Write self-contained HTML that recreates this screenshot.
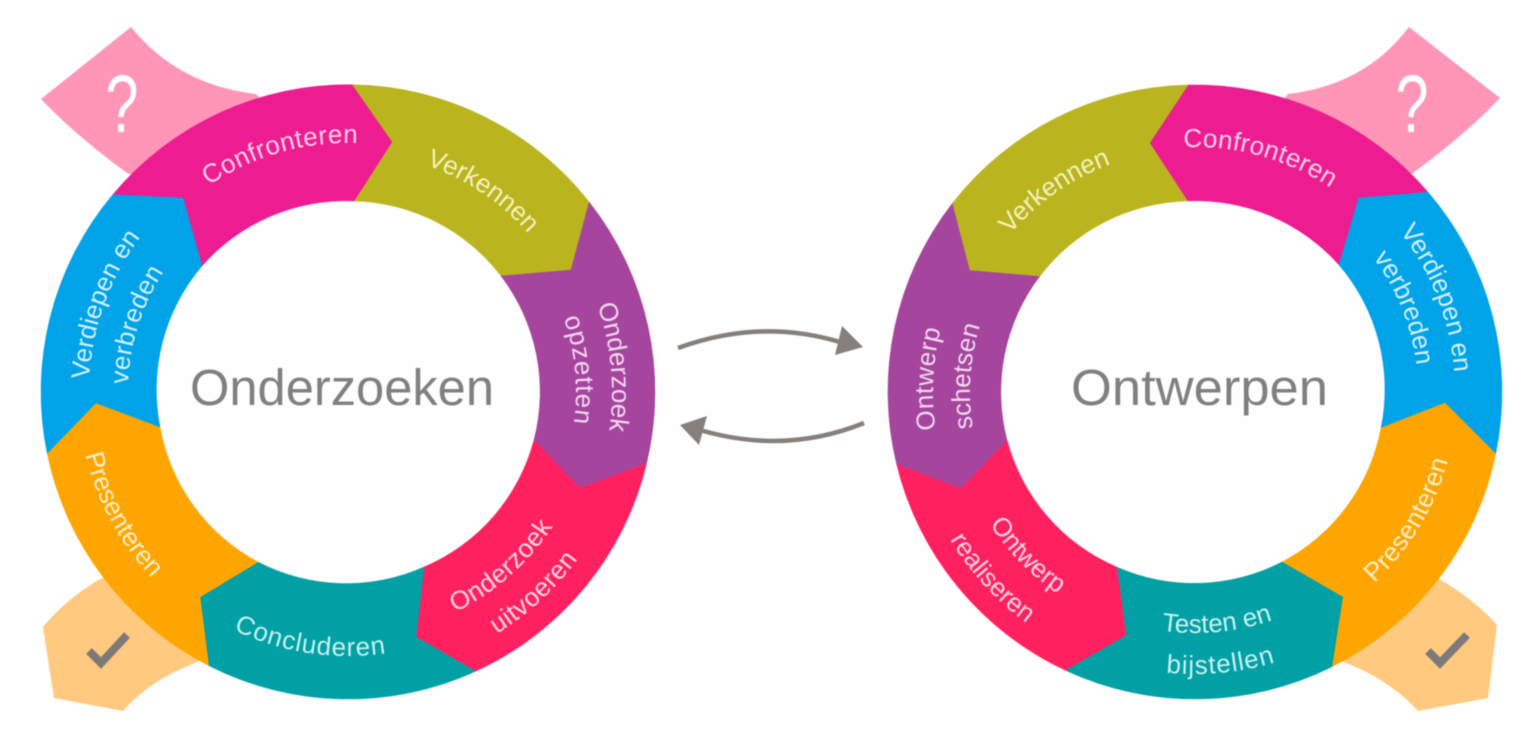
<!DOCTYPE html>
<html><head><meta charset="utf-8"><style>
html,body{margin:0;padding:0;background:#fefefe;width:1524px;height:748px;overflow:hidden}
svg{display:block;filter:blur(.6px)}
text{font-family:"Liberation Sans",sans-serif}
.l{font-size:26px;text-anchor:middle}
</style></head><body>
<svg width="1524" height="748" viewBox="0 0 1524 748" xmlns="http://www.w3.org/2000/svg">
<defs>
<path id="a1" d="M348,641A249,249 0 1 1 348,143A249,249 0 1 1 348,641"/>
<path id="a2" d="M348,632A240,240 0 1 1 348,152A240,240 0 1 1 348,632"/>
<path id="a3" d="M348,656A264,264 0 1 1 348,128A264,264 0 1 1 348,656"/>
<path id="a4" d="M348,620A228,228 0 1 1 348,164A228,228 0 1 1 348,620"/>
<path id="a5" d="M348,147A245,245 0 1 0 348,637A245,245 0 1 0 348,147"/>
<path id="a6" d="M348,108A284,284 0 1 0 348,676A284,284 0 1 0 348,108"/>
<path id="a7" d="M348,128A264,264 0 1 0 348,656A264,264 0 1 0 348,128"/>
<path id="a8" d="M348,122A270,270 0 1 0 348,662A270,270 0 1 0 348,122"/>
<path id="a9" d="M348,651A259,259 0 1 1 348,133A259,259 0 1 1 348,651"/>
<path id="a10" d="M348,612A220,220 0 1 1 348,172A220,220 0 1 1 348,612"/>
<path id="b1" d="M1195,635A243,243 0 1 1 1195,149A243,243 0 1 1 1195,635"/>
<path id="b2" d="M1195,637A245,245 0 1 1 1195,147A245,245 0 1 1 1195,637"/>
<path id="b3" d="M1195,652A260,260 0 1 1 1195,132A260,260 0 1 1 1195,652"/>
<path id="b4" d="M1195,615A223,223 0 1 1 1195,169A223,223 0 1 1 1195,615"/>
<path id="b5" d="M1195,130A262,262 0 1 0 1195,654A262,262 0 1 0 1195,130"/>
<path id="b6" d="M1195,151A241,241 0 1 0 1195,633A241,241 0 1 0 1195,151"/>
<path id="b7" d="M1195,110A282,282 0 1 0 1195,674A282,282 0 1 0 1195,110"/>
<path id="b8" d="M1195,148A244,244 0 1 0 1195,636A244,244 0 1 0 1195,148"/>
<path id="b9" d="M1195,106A286,286 0 1 0 1195,678A286,286 0 1 0 1195,106"/>
<path id="b10" d="M1195,654A262,262 0 1 1 1195,130A262,262 0 1 1 1195,654"/>
<path id="b11" d="M1195,617A225,225 0 1 1 1195,167A225,225 0 1 1 1195,617"/>
</defs>

<!-- tabs behind rings -->
<path fill="#ff96b8" d="M131,27Q178,85 256,94L270,110L200,200L127,173Q75,135 41,99Z"/>
<path fill="#ffc97f" d="M100,579Q65,600 43,627L54,698L123,711Q150,680 195,663L240,640L150,560Z"/>
<path fill="#ff96b8" d="M1409,27Q1365,85 1288,94L1275,110L1340,200L1413,173Q1465,135 1500,98Z"/>
<path fill="#ffc97f" d="M1441,580Q1475,600 1497,625L1488,698L1418,711Q1390,680 1346,663L1300,640L1390,560Z"/>

<!-- left ring -->
<g stroke-width=".5">
<path fill="#ed1c91" stroke="#ed1c91" d="M202,266L183,198L112.7,194.7A307,307 0 0 1 352.5,84.7L392.5,142L354.6,201A191,191 0 0 0 202,266Z"/>
<path fill="#bab51e" stroke="#bab51e" d="M354.6,201L392.5,142L352.5,84.7A307,307 0 0 1 589.2,202L571,270L501,276A191,191 0 0 0 354.6,201Z"/>
<path fill="#a6459e" stroke="#a6459e" d="M501,276L571,270L589.2,202A307,307 0 0 1 646.5,463.6L580,488L534,440A191,191 0 0 0 501,276Z"/>
<path fill="#ff2060" stroke="#ff2060" d="M534,440L580,488L646.5,463.6A307,307 0 0 1 475.6,671.3L416,637L424,567A191,191 0 0 0 534,440Z"/>
<path fill="#00a0a4" stroke="#00a0a4" d="M424,567L416,637L475.6,671.3A307,307 0 0 1 208.7,665.6L200,597L258,562A191,191 0 0 0 424,567Z"/>
<path fill="#ffa500" stroke="#ffa500" d="M258,562L200,597L208.7,665.6A307,307 0 0 1 47.2,453.4L96,403L160,427A191,191 0 0 0 258,562Z"/>
<path fill="#00a3e8" stroke="#00a3e8" d="M160,427L96,403L47.2,453.4A307,307 0 0 1 112.7,194.7L183,198L202,266A191,191 0 0 0 160,427Z"/>
</g>

<!-- right ring -->
<g stroke-width=".5">
<path fill="#ed1c91" stroke="#ed1c91" d="M1187.5,201L1149.6,143L1188,85A307,307 0 0 1 1428.1,192.2L1358.7,198L1339,265A191,191 0 0 0 1187.5,201Z"/>
<path fill="#00a3e8" stroke="#00a3e8" d="M1339,265L1358.7,198L1428.1,192.2A307,307 0 0 1 1495.7,453.8L1445,403L1381,428A191,191 0 0 0 1339,265Z"/>
<path fill="#ffa500" stroke="#ffa500" d="M1381,428L1445,403L1495.7,453.8A307,307 0 0 1 1331.9,666.8L1342.7,597L1282,562A191,191 0 0 0 1381,428Z"/>
<path fill="#00a0a4" stroke="#00a0a4" d="M1282,562L1342.7,597L1331.9,666.8A307,307 0 0 1 1065.4,670.3L1126,635L1116.7,567A191,191 0 0 0 1282,562Z"/>
<path fill="#ff2060" stroke="#ff2060" d="M1116.7,567L1126,635L1065.4,670.3A307,307 0 0 1 896.6,464L961,488L1007,440A191,191 0 0 0 1116.7,567Z"/>
<path fill="#a6459e" stroke="#a6459e" d="M1007,440L961,488L896.6,464A307,307 0 0 1 952.6,203L970,270L1040,276A191,191 0 0 0 1007,440Z"/>
<path fill="#bab51e" stroke="#bab51e" d="M1040,276L970,270L952.6,203A307,307 0 0 1 1188,85L1149.6,143L1187.5,201A191,191 0 0 0 1040,276Z"/>
</g>

<!-- tab icons -->
<text transform="translate(122,132) scale(.72,1)" font-size="82" fill="#fff" text-anchor="middle">?</text>
<text transform="translate(1412,132) scale(.72,1)" font-size="82" fill="#fff" text-anchor="middle">?</text>
<polyline points="89,651 101,663 127,635" fill="none" stroke="#7c7a78" stroke-width="8"/>
<polyline points="1428,651 1440,663 1467,635" fill="none" stroke="#7c7a78" stroke-width="8"/>

<!-- centre labels -->
<text x="190" y="405" font-size="51" fill="#808080" textLength="304" lengthAdjust="spacingAndGlyphs">Onderzoeken</text>
<text x="1071" y="405" font-size="51" fill="#808080" textLength="257" lengthAdjust="spacingAndGlyphs">Ontwerpen</text>

<!-- left labels -->
<text class="l" fill="#fbd0e8" letter-spacing=".5"><textPath href="#a1" startOffset="45.6%">Confronteren</textPath></text>
<text class="l" fill="#f4f2c0"><textPath href="#a2" startOffset="59.4%">Verkennen</textPath></text>
<text class="l" fill="#f0d8ee"><textPath href="#a3" startOffset="73.5%">Onderzoek</textPath></text>
<text class="l" fill="#f0d8ee" letter-spacing="1"><textPath href="#a4" startOffset="73.5%">opzetten</textPath></text>
<text class="l" fill="#ffd4e0" letter-spacing=".5"><textPath href="#a5" startOffset="61.5%">Onderzoek</textPath></text>
<text class="l" fill="#ffd4e0" letter-spacing=".5"><textPath href="#a6" startOffset="61.9%">uitvoeren</textPath></text>
<text class="l" fill="#c8f0f0" letter-spacing=".9"><textPath href="#a7" startOffset="47.6%">Concluderen</textPath></text>
<text class="l" fill="#ffeecc"><textPath href="#a8" startOffset="32.9%">Presenteren</textPath></text>
<text class="l" fill="#d0f0fc"><textPath href="#a9" startOffset="30.5%">Verdiepen en</textPath></text>
<text class="l" fill="#d0f0fc" letter-spacing=".3"><textPath href="#a10" startOffset="29.9%">verbreden</textPath></text>

<!-- right labels -->
<text class="l" fill="#f4f2c0"><textPath href="#b1" startOffset="40.3%">Verkennen</textPath></text>
<text class="l" fill="#fbd0e8" letter-spacing=".3"><textPath href="#b2" startOffset="54.3%">Confronteren</textPath></text>
<text class="l" fill="#d0f0fc"><textPath href="#b3" startOffset="69.1%">Verdiepen en</textPath></text>
<text class="l" fill="#d0f0fc"><textPath href="#b4" startOffset="68.9%">verbreden</textPath></text>
<text class="l" fill="#ffeecc" letter-spacing=".3"><textPath href="#b5" startOffset="66.4%">Presenteren</textPath></text>
<text class="l" fill="#c8f0f0"><textPath href="#b6" startOffset="51.5%">Testen en</textPath></text>
<text class="l" fill="#c8f0f0" letter-spacing="1"><textPath href="#b7" startOffset="51.5%">bijstellen</textPath></text>
<text class="l" fill="#ffd4e0"><textPath href="#b8" startOffset="37.3%">Ontwerp</textPath></text>
<text class="l" fill="#ffd4e0"><textPath href="#b9" startOffset="36.8%">realiseren</textPath></text>
<text class="l" fill="#f0d8ee" letter-spacing=".5"><textPath href="#b10" startOffset="25.8%">Ontwerp</textPath></text>
<text class="l" fill="#f0d8ee"><textPath href="#b11" startOffset="26.1%">schetsen</textPath></text>

<!-- arrows -->
<path d="M678,348Q760,318 840,342" fill="none" stroke="#85807c" stroke-width="4.5"/>
<polygon points="842,326 863,347 835,355" fill="#85807c"/>
<path d="M864,423Q785,455 700,430" fill="none" stroke="#85807c" stroke-width="4.5"/>
<polygon points="680,425 707,416 699,445" fill="#85807c"/>
</svg>
</body></html>
